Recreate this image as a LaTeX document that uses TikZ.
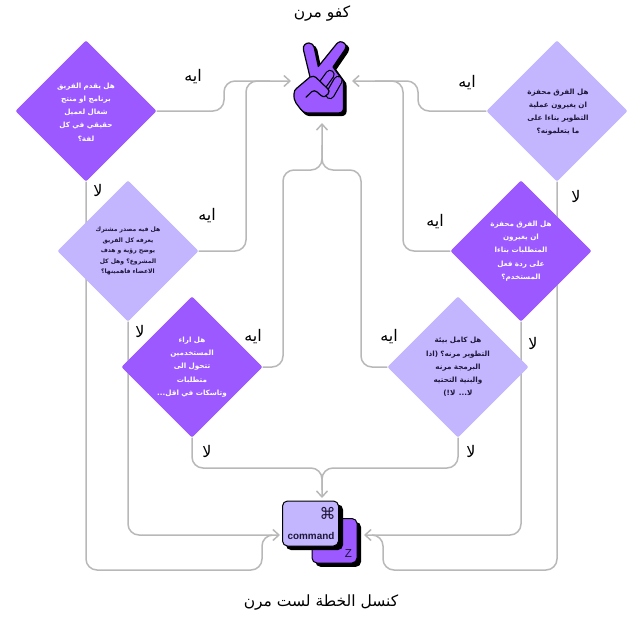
\documentclass[tikz,border=0pt]{standalone}
\usepackage{fontspec}
\usetikzlibrary{shapes.geometric,arrows.meta}
\TeXXeTstate=1
\newfontfamily\arabicfont[Script=Arabic]{DejaVu Sans}
\newfontfamily\arabicbold[Script=Arabic]{DejaVu Sans Bold}
\newfontfamily\symfont{DejaVu Sans}
\setmainfont{Liberation Sans}
\definecolor{deep}{HTML}{9B59FF}
\definecolor{pale}{HTML}{C3B6FF}
\definecolor{wire}{HTML}{B8B8B8}
\definecolor{ink}{HTML}{1E1638}
\newcommand{\ar}[1]{\beginR #1\endR}
\tikzset{
  wirepath/.style={draw=wire,line width=1.5pt,rounded corners=11pt},
  tipped/.style={wirepath,-{Straight Barb[length=6pt,width=11pt,line width=1.5pt]}},
  dia/.style={diamond,aspect=1,minimum size=141pt,inner sep=0pt,rounded corners=2pt},
  deepd/.style={dia,fill=deep,text=white},
  paled/.style={dia,fill=pale,text=ink},
  qtext/.style={font=\arabicbold\fontsize{7.2}{13.2}\selectfont,align=center,text width=100pt},
  small/.style={font=\arabicbold\fontsize{6.1}{10.5}\selectfont,align=center,text width=100pt},
  ans/.style={font=\arabicfont\fontsize{16}{16}\selectfont,text=black,inner sep=0pt},
  title/.style={font=\arabicfont\fontsize{15.5}{15.5}\selectfont,text=black,inner sep=0pt},
  keycap/.style={rounded corners=5pt,line width=1pt,draw=black},
  handline/.style={draw=black,line width=1.2pt,line join=round,line cap=round},
}
\newcommand{\handpath}{(303.5,50) .. controls (302.5,45) and (306,43) .. (309,43) .. controls (312,43) and (313.5,45) .. (314.2,47.5) -- (318.3,66.5) -- (336.5,44) .. controls (338.5,41.5) and (341.5,41) .. (344,43) .. controls (346.5,45) and (346.5,47.5) .. (345,49.5) -- (333,67) -- (341,78) .. controls (343,80) and (343.5,81.5) .. (343.5,84) -- (343.5,108) .. controls (343.5,111.5) and (341.5,113) .. (338,113) -- (309,113) .. controls (305,113) and (303,112) .. (300.5,109) -- (296,103) .. controls (294,100) and (294,98) .. (294,94) .. controls (294,91) and (295,89.5) .. (297,88) -- (310,77) -- cycle}
\begin{document}
\begin{tikzpicture}[x=1pt,y=-1pt]
\useasboundingbox (0,0) rectangle (631,633);
\coordinate (hL) at (291,81);\coordinate (hR) at (352,81);\coordinate (hB) at (322,123);
\coordinate (kL) at (280,535);\coordinate (kR) at (364,535);\coordinate (kT) at (322,498);
\node[deepd] (d1) at (86,111) {};
\node[paled] (d2) at (128,251) {};
\node[deepd] (d3) at (192,367) {};
\node[paled] (d4) at (458,367) {};
\node[deepd] (d5) at (521,251) {};
\node[paled] (d6) at (557,111) {};
% connectors yes
\draw[tipped] (d1.east) -- (224,111) -- (224,81) -- (hL);
\draw[wirepath] (d2.east) -- (246,251) -- (246,81) -- (270,81);
\draw[tipped] (d6.west) -- (418,111) -- (418,81) -- (hR);
\draw[wirepath] (d5.west) -- (403,251) -- (403,81) -- (375,81);
\draw[wirepath] (d3.east) -- (283,367) -- (283,170) -- (322,170) -- (322,145);
\draw[tipped] (d4.west) -- (361,367) -- (361,170) -- (322,170) -- (hB);
% connectors no
\draw[tipped] (d1.south) -- (86,570) -- (262,570) -- (262,535) -- (kL);
\draw[wirepath] (d2.south) -- (128,535) -- (272,535);
\draw[wirepath] (d3.south) -- (192,468) -- (322,468) -- (322,490);
\draw[tipped] (d4.south) -- (458,468) -- (322,468) -- (kT);
\draw[wirepath] (d5.south) -- (521,535) -- (372,535);
\draw[tipped] (d6.south) -- (557,570) -- (383,570) -- (383,535) -- (kR);
% diamonds on top
\node[deepd] at (86,111) {};
\node[paled] at (128,251) {};
\node[deepd] at (192,367) {};
\node[paled] at (458,367) {};
\node[deepd] at (521,251) {};
\node[paled] at (557,111) {};
\node[qtext,text=white] (t1) at (86,112) {\ar{هل يقدم الفريق}\\\ar{برنامج او منتج}\\\ar{شغال لعميل}\\\ar{حقيقي في كل}\\\ar{لفة؟}};
\node[small,text=ink] (t2) at (128,251) {\ar{هل فيه مصدر مشترك}\\\ar{يعرفه كل الفريق}\\\ar{يوضح رؤية و هدف}\\\ar{المشروع؟ وهل كل}\\\ar{الاعضاء فاهمينها؟}};
\node[qtext,text=white] (t3) at (192,367) {\ar{هل اراء}\\\ar{المستخدمين}\\\ar{تتحول الى}\\\ar{متطلبات}\\\ar{وتاسكات في اقل...}};
\node[qtext,text=ink] (t4) at (458,367) {\ar{هل كامل بيئة}\\\ar{التطوير مرنه؟ (اذا}\\\ar{البرمجة مرنه}\\\ar{والبنية التحتيه}\\\ar{لا... لا!)}};
\node[qtext,text=white] (t5) at (521,251) {\ar{هل الفرق محفزة}\\\ar{ان يغيرون}\\\ar{المتطلبات بناءا}\\\ar{على ردة فعل}\\\ar{المستخدم؟}};
\node[qtext,text=ink] (t6) at (558,112) {\ar{هل الفرق محفزة}\\\ar{ان يغيرون عملية}\\\ar{التطوير بناءا على}\\\ar{ما يتعلمونه؟}};
% labels
\foreach \n/\x/\y in {a/193/77,b/207/216,c/253/337,e/389/337,f/435/222,g/467/83}
  \node[ans] (y\n) at (\x,\y) {\ar{ايه}};
\foreach \n/\x/\y in {a/98/190,b/140/331,c/207/451,e/471/451,f/533/343,g/576/196}
  \node[ans] (n\n) at (\x,\y) {\ar{لا}};
\node[title] (top) at (322,13) {\ar{كفو مرن}};
\node[title] (bot) at (321,602) {\ar{كنسل الخطة لست مرن}};
% hand icon: shadow, body, curled fingers, thumb
\begin{scope}[shift={(2.6,2.6)}]
\fill[black,draw=black,line width=1.2pt,line join=round] \handpath;
\end{scope}
\filldraw[fill=deep,handline] \handpath;
\draw[black,line width=9.4pt,line cap=round] (330,74.5) -- (322,85.5);
\draw[deep,line width=7pt,line cap=round] (330,74.5) -- (322,85.5);
\draw[black,line width=9.4pt,line cap=round] (338,80.5) -- (330,94.5);
\draw[deep,line width=7pt,line cap=round] (338,80.5) -- (330,94.5);
\filldraw[fill=deep,handline] (306,97.3) -- (311.7,91.7) .. controls (313.5,90.5) and (315,90.5) .. (316.7,91.7) -- (321,95.5) .. controls (323.5,97.5) and (326.5,96.5) .. (328,94) .. controls (329.5,91.5) and (329.5,90.5) .. (327.5,88.5) -- (316,77.5) .. controls (314.5,76) and (312.5,76) .. (310.5,77);
% keys
\fill[black,rounded corners=5pt] (315.5,522) rectangle (361,566.8);
\filldraw[keycap,fill=deep] (312,518.5) rectangle (357,563);
\fill[black,rounded corners=5pt] (286,504.5) rectangle (343,550);
\filldraw[keycap,fill=pale] (282.5,501) rectangle (338.5,546);
\node[inner sep=0pt,font=\symfont\fontsize{16}{16}\selectfont,text=ink] (cmd) at (327.5,513) {⌘};
\node[inner sep=0pt,font=\bfseries\fontsize{9.9}{10}\selectfont,text=ink] (cmdlabel) at (311,536) {command};
\node[inner sep=0pt,font=\fontsize{11.6}{12}\selectfont,text=ink] (zkey) at (348.5,553.5) {Z};
\end{tikzpicture}
\end{document}
